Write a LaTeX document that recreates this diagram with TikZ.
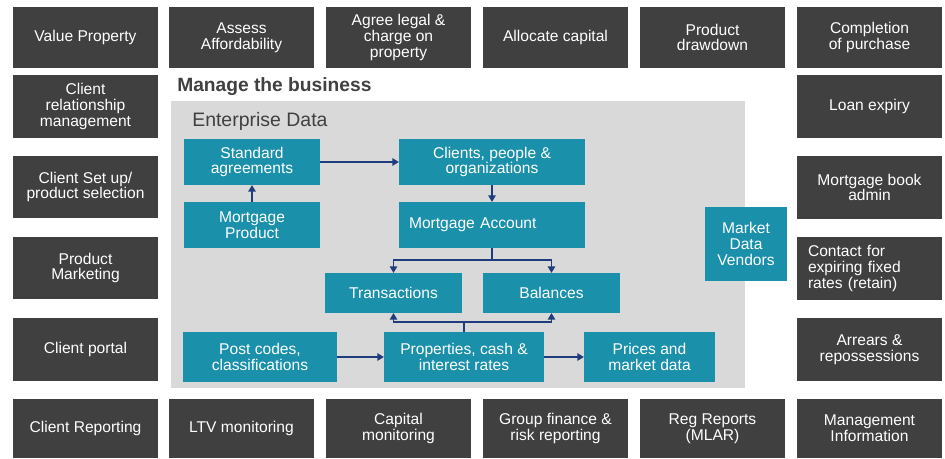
\documentclass[tikz,border=0pt]{standalone}
\usepackage{fontspec}
\setmainfont{Liberation Sans}
\usetikzlibrary{arrows.meta}

\definecolor{opgrey}{HTML}{404040}
\definecolor{dataTeal}{HTML}{1A90AA}
\definecolor{panelgrey}{HTML}{D9D9D9}
\definecolor{linknavy}{HTML}{1F3D7C}

\newcommand{\boxfont}{\fontsize{11.7}{11.8}\selectfont}

% place a box by its corner coordinates: style, name, x1, y1, x2, y2, text
\newcommand{\pbox}[7]{%
  \node[#1, minimum width={(#5-#3)*0.75pt}, minimum height={(#6-#4)*0.75pt}]
    (#2) at ({(#3+#5)/2},{(#4+#6)/2}) {#7};}

\tikzset{
  opbox/.style={fill=opgrey, text=white, align=center, inner sep=0pt,
    outer sep=0pt, font=\boxfont},
  databox/.style={fill=dataTeal, text=white, align=center, inner sep=0pt,
    outer sep=0pt, font=\boxfont},
  link/.style={draw=linknavy, line width=1.3pt,
    -{Triangle[length=5pt,width=5.5pt]}},
  plainlink/.style={draw=linknavy, line width=1.3pt}
}

\begin{document}
\begin{tikzpicture}[x=0.75pt, y=-0.75pt]
\useasboundingbox (0,0) rectangle (945,459);

% enterprise data panel
\fill[panelgrey] (171,101) rectangle (745,388);
\node[anchor=base west, inner sep=0pt, font=\bfseries\fontsize{14.4}{16}\selectfont,
  text=opgrey] (mtb) at (177,92) {Manage the business};
\node[anchor=base west, inner sep=0pt, font=\fontsize{14.6}{16}\selectfont,
  text=opgrey] (ed) at (192,127) {Enterprise Data};

% top row
\pbox{opbox}{vp}{13}{7}{158}{68}{Value Property}
\pbox{opbox}{aa}{169}{7}{314}{68}{Assess\\Affordability}
\pbox{opbox}{al}{326}{7}{471}{68}{Agree legal \&\\charge on\\property}
\pbox{opbox}{ac}{483}{7}{628}{68}{Allocate capital}
\pbox{opbox}{pd}{640}{7}{785}{68}{Product\\drawdown}
\pbox{opbox}{cp}{797}{7}{942}{68}{Completion\\of purchase}

% left column
\pbox{opbox}{crm}{13}{75}{158}{138}{Client\\relationship\\management}
\pbox{opbox}{csu}{13}{156}{158}{218}{Client Set up/\\product selection}
\pbox{opbox}{pmk}{13}{237}{158}{299}{Product\\Marketing}
\pbox{opbox}{cpt}{13}{318}{158}{381}{Client portal}

% right column
\pbox{opbox}{le}{797}{75}{942}{138}{Loan expiry}
\pbox{opbox}{mba}{797}{156}{942}{219}{Mortgage book\\admin}
\pbox{opbox,align=left,text width={123*0.75pt},inner xsep={11*0.75pt}}{cef}{797}{237}{942}{300}{Contact for\\expiring fixed\\rates (retain)}
\pbox{opbox}{arr}{797}{318}{942}{381}{Arrears \&\\repossessions}

% bottom row
\pbox{opbox}{cr}{13}{399}{158}{458}{Client Reporting}
\pbox{opbox}{ltv}{169}{399}{314}{458}{LTV monitoring}
\pbox{opbox}{cm}{326}{399}{471}{458}{Capital\\monitoring}
\pbox{opbox}{gf}{483}{399}{628}{458}{Group finance \&\\risk reporting}
\pbox{opbox}{rr}{640}{399}{785}{458}{Reg Reports\\(MLAR)}
\pbox{opbox}{mi}{797}{399}{942}{458}{Management\\Information}

% data entities
\pbox{databox}{sa}{184}{139}{320}{185}{Standard\\agreements}
\pbox{databox}{cpo}{399}{139}{585}{185}{Clients, people \&\\organizations}
\pbox{databox}{mp}{184}{202}{320}{248}{Mortgage\\Product}
\pbox{databox,align=left,text width={166*0.75pt},inner xsep={10*0.75pt}}{ma}{399}{202}{585}{248}{Mortgage Account}
\pbox{databox}{tr}{325}{273}{462}{313}{Transactions}
\pbox{databox}{bal}{483}{273}{620}{313}{Balances}
\pbox{databox}{pc}{183}{332}{337}{382}{Post codes,\\classifications}
\pbox{databox}{pr}{384}{332}{544}{382}{Properties, cash \&\\interest rates}
\pbox{databox}{pm}{584}{332}{715}{382}{Prices and\\market data}
\pbox{databox}{mdv}{705}{207}{787}{281}{Market\\Data\\Vendors}

% relationships
\draw[link] (sa.east) -- (cpo.west);
\draw[link] (mp.north) -- (sa.south);
\draw[link] (cpo.south) -- (ma.north);
\coordinate (mj) at (ma.south |- 0,260);
\draw[plainlink] (ma.south) -- (mj);
\draw[link] (mj) -| (tr.north);
\draw[link] (mj) -| (bal.north);
\coordinate (pj) at (pr.north |- 0,322);
\draw[plainlink] (pr.north) -- (pj);
\draw[link] (pj) -| (tr.south);
\draw[link] (pj) -| (bal.south);
\draw[link] (pc.east) -- (pr.west);
\draw[link] (pr.east) -- (pm.west);
\end{tikzpicture}
\end{document}
